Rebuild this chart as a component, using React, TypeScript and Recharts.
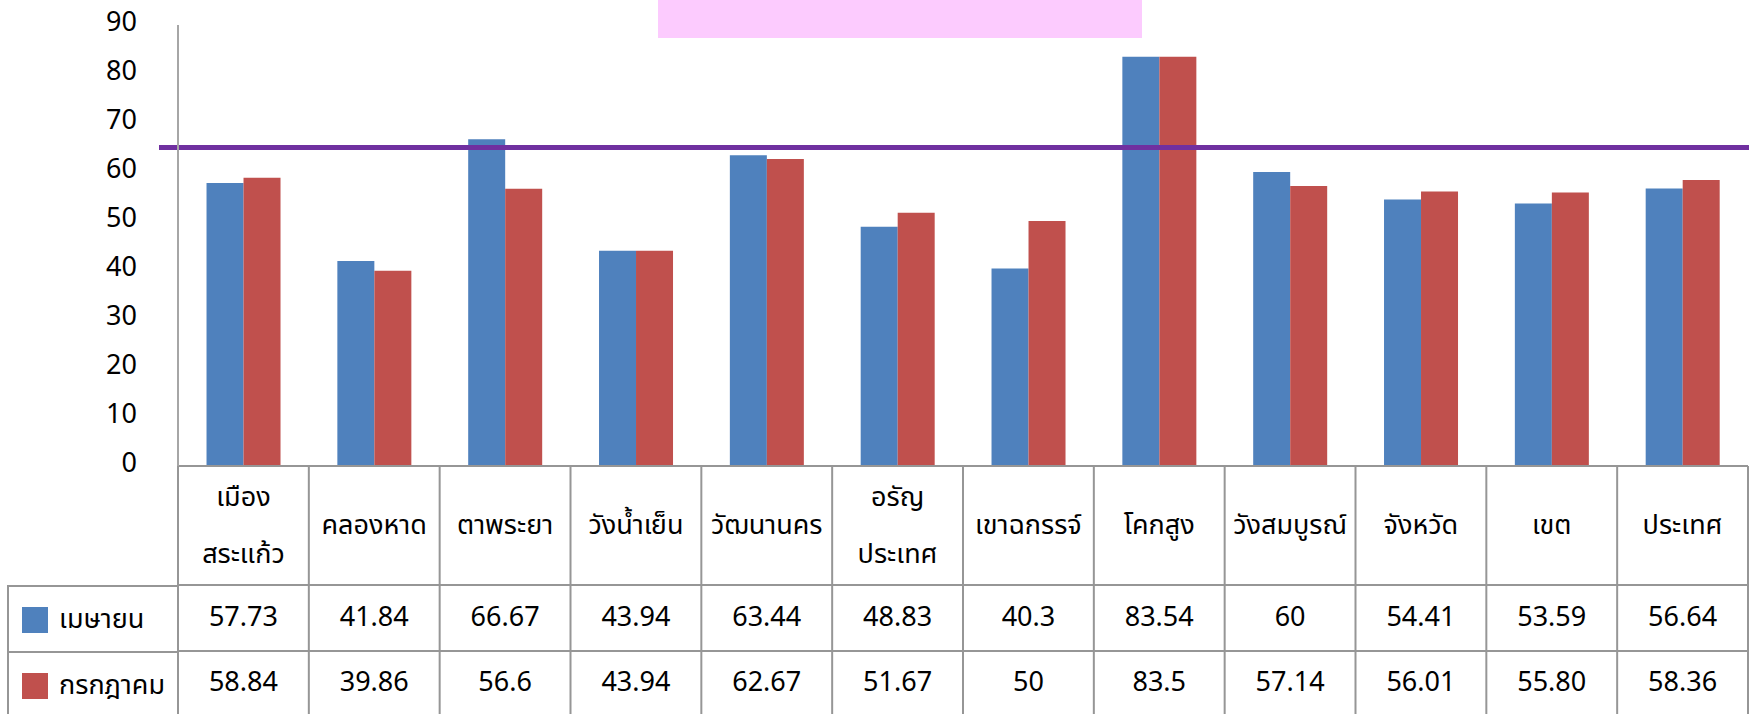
import { BarChart, Bar, XAxis, YAxis, ReferenceLine, Legend } from 'recharts';

// categories (\n = line break in the table header)
const districts = [
  'เมือง\nสระแก้ว', 'คลองหาด', 'ตาพระยา', 'วังน้ำเย็น', 'วัฒนานคร', 'อรัญ\nประเทศ',
  'เขาฉกรรจ์', 'โคกสูง', 'วังสมบูรณ์', 'จังหวัด', 'เขต', 'ประเทศ',
];
// values as printed in the data table
const aprilText = ['57.73', '41.84', '66.67', '43.94', '63.44', '48.83', '40.3', '83.54', '60', '54.41', '53.59', '56.64'];
const julyText = ['58.84', '39.86', '56.6', '43.94', '62.67', '51.67', '50', '83.5', '57.14', '56.01', '55.80', '58.36'];
const seriesOrder = ['april', 'july'];
const yTicks = [0, 10, 20, 30, 40, 50, 60, 70, 80, 90];
const targetValue = 65;

const data = districts.map((name, i) => ({
  name,
  april: Number(aprilText[i]),
  july: Number(julyText[i]),
}));

const FONT = "'Noto Sans', 'Noto Sans Thai', sans-serif";
const GRID = '#969696';
const TABLE_H = 260;
const FS = 27;

const TableColumn = (props: any) => {
  const { x, y, payload } = props;
  const i: number = props.index ?? payload.index;
  const w = payload.offset ? payload.offset * 2 : 130.8;
  const l = x - w / 2;
  const r = x + w / 2;
  const lines = districts[i].split('\n');
  const centers = lines.length === 1 ? [57] : [29, 86];
  const txt = { textAnchor: 'middle' as const, dominantBaseline: 'central' as const, fontSize: FS, fill: '#000', fontFamily: FONT };
  return (
    <g>
      {i === 0 && <line x1={l} y1={y} x2={l} y2={y + TABLE_H} stroke={GRID} strokeWidth={2} />}
      <line x1={r} y1={y} x2={r} y2={y + TABLE_H} stroke={GRID} strokeWidth={2} />
      <line x1={l} y1={y + 119} x2={r} y2={y + 119} stroke={GRID} strokeWidth={2} />
      <line x1={l} y1={y + 185} x2={r} y2={y + 185} stroke={GRID} strokeWidth={2} />
      {lines.map((t, k) => (
        <text key={k} x={x} y={y + centers[k]} {...txt}>{t}</text>
      ))}
      <text x={x} y={y + 149} {...txt}>{aprilText[i]}</text>
      <text x={x} y={y + 214} {...txt}>{julyText[i]}</text>
    </g>
  );
};

const LegendColumn = (props: any) => {
  const items = [...(props.payload || [])].sort(
    (a: any, b: any) => seriesOrder.indexOf(a.dataKey) - seriesOrder.indexOf(b.dataKey),
  );
  return (
    <div style={{ width: 171, fontFamily: FONT }}>
      {items.map((it: any, k: number) => (
        <div
          key={k}
          style={{
            position: 'relative',
            height: 66,
            boxSizing: 'border-box',
            borderTop: `2px solid ${GRID}`,
            borderLeft: `2px solid ${GRID}`,
          }}
        >
          <div style={{ position: 'absolute', left: 13, top: 20, width: 26, height: 26, background: it.color }} />
          <div style={{ position: 'absolute', left: 50, top: 0, height: 64, lineHeight: '62px', fontSize: FS, color: '#000', whiteSpace: 'nowrap' }}>
            {it.value}
          </div>
        </div>
      ))}
    </div>
  );
};

const TargetLine = (p: any) => (
  <line x1={p.x1 - 19} y1={p.y1} x2={p.x2 + 1} y2={p.y2} stroke="#7030A0" strokeWidth={5} />
);

export default function App() {
  return (
    <div style={{ position: 'absolute', left: 0, top: 0, width: 1752, height: 714, background: '#fff', fontFamily: FONT, overflow: 'hidden' }}>
      <BarChart
        width={1752}
        height={714}
        data={data}
        margin={{ top: 25, right: 4, left: 0, bottom: 0 }}
        barCategoryGap="21.8%"
        barGap={0}
      >
        <XAxis
          dataKey="name"
          height={248}
          interval={0}
          tickLine={false}
          tickSize={0}
          tickMargin={0}
          axisLine={{ stroke: GRID, strokeWidth: 2 }}
          tick={<TableColumn />}
        />
        <YAxis
          width={178}
          domain={[0, 90]}
          ticks={yTicks}
          tickLine={false}
          tickSize={0}
          tickMargin={41}
          axisLine={{ stroke: '#a6a6a6', strokeWidth: 2 }}
          tick={{ fill: '#000', fontSize: FS, fontFamily: FONT, dy: -4 }}
        />
        <Bar dataKey="april" name="เมษายน" fill="#4F81BD" isAnimationActive={false} />
        <Bar dataKey="july" name="กรกฎาคม" fill="#C0504D" isAnimationActive={false} />
        <ReferenceLine y={targetValue} shape={<TargetLine />} />
        <Legend
          layout="vertical"
          align="center"
          verticalAlign="middle"
          content={<LegendColumn />}
          wrapperStyle={{ left: 7, top: 585, width: 171, bottom: 'auto' }}
        />
      </BarChart>
      <div style={{ position: 'absolute', left: 658, top: 0, width: 484, height: 38, background: '#FCCBFE' }} />
    </div>
  );
}
